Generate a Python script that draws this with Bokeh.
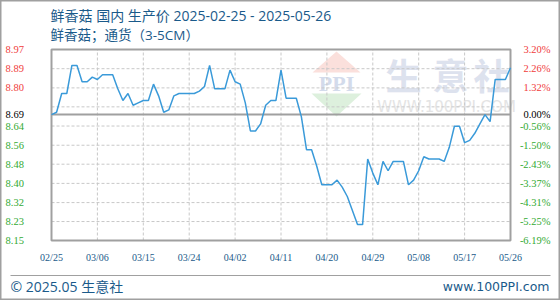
import pandas as pd
from bokeh.plotting import figure
from bokeh.models import (ColumnDataSource, LabelSet, Label, PolyAnnotation, Range1d)
from bokeh.embed import file_html
from bokeh.resources import INLINE

# ---------------- data ----------------
start_date = "2025-02-25"
end_date = "2025-05-26"
prices = [
    8.69, 8.70, 8.78, 8.78, 8.90, 8.90, 8.83, 8.83, 8.85, 8.84,
    8.86, 8.86, 8.86, 8.80, 8.75, 8.78, 8.73, 8.74, 8.75, 8.75,
    8.82, 8.77, 8.70, 8.71, 8.77, 8.78, 8.78, 8.78, 8.78, 8.79,
    8.81, 8.90, 8.80, 8.80, 8.80, 8.88, 8.83, 8.82, 8.74, 8.62,
    8.62, 8.65, 8.73, 8.75, 8.75, 8.88, 8.76, 8.76, 8.76, 8.68,
    8.54, 8.54, 8.47, 8.39, 8.39, 8.39, 8.41, 8.38, 8.34, 8.28,
    8.22, 8.22, 8.50, 8.44, 8.39, 8.49, 8.45, 8.49, 8.49, 8.49,
    8.39, 8.41, 8.45, 8.51, 8.50, 8.50, 8.50, 8.49, 8.55, 8.64,
    8.64, 8.57, 8.58, 8.61, 8.65, 8.69, 8.66, 8.84, 8.84, 8.84,
    8.89,
]
base_price = 8.69
y_min = 8.152
y_max = 8.968
price_ticks = [8.968, 8.886, 8.804, 8.723, 8.641, 8.559, 8.478, 8.396, 8.314, 8.233, 8.152]
price_labels = ["8.97", "8.89", "8.80", "", "8.64", "8.56", "8.48", "8.40", "8.32", "8.23", "8.15"]
pct_labels = ["3.20%", "2.26%", "1.32%", "", "-0.56%", "-1.50%", "-2.43%", "-3.37%", "-4.31%", "-5.25%", "-6.19%"]
x_tick_labels = ["02/25", "03/06", "03/15", "03/24", "04/02", "04/11",
                 "04/20", "04/29", "05/08", "05/17", "05/26"]

title_1 = "鲜香菇 国内 生产价 2025-02-25 - 2025-05-26"
title_2 = "鲜香菇；通货（3-5CM）"
footer_left = "© 2025.05 生意社"
footer_right = "www.100PPI.com"

# ---------------- layout geometry (pixels, from top-left) ----------------
W, H = 560, 300
PL, PR, PT, PB = 51, 510, 49, 240

dates = pd.date_range(start_date, end_date, freq="D")
x0_ms = dates[0].timestamp() * 1000
x1_ms = dates[-1].timestamp() * 1000
ms_per_px = (x1_ms - x0_ms) / (PR - PL)
val_per_px = (y_max - y_min) / (PB - PT)
x_range = Range1d(x0_ms - PL * ms_per_px, x1_ms + (W - PR) * ms_per_px)
y_range = Range1d(y_min - (H - PB) * val_per_px, y_max + PT * val_per_px)

src = ColumnDataSource(dict(date=dates, price=prices))
x_ticks = [pd.Timestamp("2025-" + t.replace("/", "-")).timestamp() * 1000 for t in x_tick_labels]

RED, GREEN, BLACK = "#f03c3c", "#33aa33", "#000000"
BLUE_TXT = "#1a5a8a"
GRID = "#c8c8c8"
FRAME = "#a0a0a0"
TITLE_FONT = "Open Sans, Noto Sans CJK SC"

def SY(y_top):
    return H - y_top

p = figure(width=W, height=H, x_axis_location=None, y_axis_location=None,
           output_backend="svg", toolbar_location=None,
           x_range=x_range, y_range=y_range, min_border=0)
p.background_fill_color = "white"
p.border_fill_color = "white"
p.outline_line_color = FRAME
p.outline_line_width = 2
p.xgrid.visible = False
p.ygrid.visible = False

# watermark
wm_kw = dict(xs_units="screen", ys_units="screen", line_color=None, level="underlay")
p.add_layout(PolyAnnotation(xs=[336, 360, 312], ys=[SY(51), SY(72), SY(72)],
                            fill_color="#fbe0dc", fill_alpha=1, **wm_kw))
p.add_layout(PolyAnnotation(xs=[311, 361, 336], ys=[SY(93), SY(93), SY(116)],
                            fill_color="#ddf0dd", fill_alpha=1, **wm_kw))
p.add_layout(Label(x=336, y=SY(83), x_units="screen", y_units="screen", text="PPI",
                   text_font="Liberation Serif", text_font_size="22px", text_font_style="bold",
                   text_color="#d3dbeb", text_align="center", text_baseline="middle",
                   level="underlay"))
for ch, cx in zip("生意社", [403, 450, 491]):
    p.add_layout(Label(x=cx, y=SY(73), x_units="screen", y_units="screen", text=ch,
                       text_font="Noto Sans CJK SC", text_font_size="36px",
                       text_font_style="bold", text_color="#dde2ee",
                       text_align="center", text_baseline="middle", level="underlay"))
p.add_layout(Label(x=446, y=SY(106), x_units="screen", y_units="screen", text="WWW.100PPI.COM",
                   text_font="DejaVu Sans", text_font_size="15px", text_color="#e4e4e4",
                   text_align="center", text_baseline="middle", level="underlay"))

# grid lines (dashed)
vx = x_ticks[1:-1]
p.segment(x0=vx, y0=[y_min] * len(vx), x1=vx, y1=[y_max] * len(vx),
          line_color=GRID, line_width=1, line_dash="3 2")
hy = price_ticks[1:-1]
p.segment(x0=[x0_ms] * len(hy), y0=hy, x1=[x1_ms] * len(hy), y1=hy,
          line_color=GRID, line_width=1, line_dash="3 2")

# plot frame
p.quad(left=[x0_ms], right=[x1_ms], bottom=[y_min], top=[y_max],
       fill_color=None, line_color=FRAME, line_width=2)

# base line
p.segment(x0=[x0_ms], y0=[base_price], x1=[x1_ms], y1=[base_price],
          line_color=FRAME, line_width=2)

# price line
p.line(x="date", y="price", source=src, line_color="#3a9ad9", line_width=1.5)

# y tick labels
colors = [RED if t > base_price else GREEN for t in price_ticks]
lsrc = ColumnDataSource(dict(y=price_ticks + [base_price],
                             plab=price_labels + ["%.2f" % base_price],
                             rlab=pct_labels + ["0.00%"],
                             color=colors + [BLACK]))
p.add_layout(LabelSet(x=5, y="y", x_units="screen", y_units="data", text="plab",
                      source=lsrc, text_color="color", text_font="DejaVu Sans Mono",
                      text_font_size="10.5px", text_baseline="middle", text_align="left"))
p.add_layout(LabelSet(x=550, y="y", x_units="screen", y_units="data", text="rlab",
                      source=lsrc, text_color="color", text_font="DejaVu Sans Mono",
                      text_font_size="10.5px", text_baseline="middle", text_align="right"))

# x tick labels
xsrc = ColumnDataSource(dict(x=x_ticks, lab=x_tick_labels))
p.add_layout(LabelSet(x="x", y=SY(257), x_units="data", y_units="screen", text="lab",
                      source=xsrc, text_color=BLUE_TXT, text_font="DejaVu Sans Mono",
                      text_font_size="10px", text_baseline="middle", text_align="center"))

# titles
p.add_layout(Label(x=50, y=SY(15), x_units="screen", y_units="screen", text=title_1,
                   text_font=TITLE_FONT, text_font_size="14px",
                   text_color=BLUE_TXT, text_baseline="middle"))
p.add_layout(Label(x=50, y=SY(34), x_units="screen", y_units="screen", text=title_2,
                   text_font=TITLE_FONT, text_font_size="13.5px",
                   text_color=BLUE_TXT, text_baseline="middle"))

# footer
p.add_layout(PolyAnnotation(xs=[10, 550, 550, 10], ys=[SY(274.5), SY(274.5), SY(275.5), SY(275.5)],
                            xs_units="screen", ys_units="screen", line_color=None,
                            fill_color=FRAME, fill_alpha=1))
p.add_layout(Label(x=10, y=SY(286), x_units="screen", y_units="screen", text=footer_left,
                   text_font=TITLE_FONT, text_font_size="14px",
                   text_color=BLUE_TXT, text_baseline="middle"))
p.add_layout(Label(x=549, y=SY(286), x_units="screen", y_units="screen", text=footer_right,
                   text_font="DejaVu Sans", text_font_size="12.5px",
                   text_color=BLUE_TXT, text_baseline="middle", text_align="right"))

open("out.html", "w").write(file_html(p, INLINE))
